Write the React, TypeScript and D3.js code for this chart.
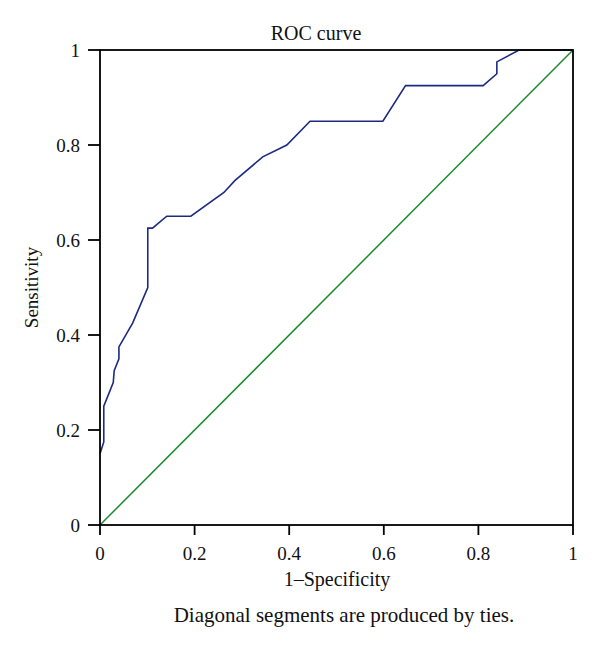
import React from "react";
import * as d3 from "d3";

const fpr = [0, 0.008, 0.008, 0.028, 0.03, 0.04, 0.04, 0.069, 0.101, 0.101, 0.111, 0.141, 0.192, 0.262, 0.285, 0.344, 0.395, 0.444, 0.598, 0.646, 0.81, 0.839, 0.839, 0.886, 1];
const tpr = [0.15, 0.175, 0.25, 0.3, 0.325, 0.35, 0.375, 0.425, 0.5, 0.625, 0.625, 0.65, 0.65, 0.7, 0.725, 0.775, 0.8, 0.85, 0.85, 0.925, 0.925, 0.95, 0.975, 1, 1];
const refX = [0, 1];
const refY = [0, 1];
const ticks = [0, 0.2, 0.4, 0.6, 0.8, 1];
const tickLabels = ["0", "0.2", "0.4", "0.6", "0.8", "1"];

const W = 600, H = 650;
const left = 100, right = 573, top = 50, bottom = 525;
const font = "'Liberation Serif', 'DejaVu Serif', serif";

export default function App() {
  const x = d3.scaleLinear().domain([0, 1]).range([left, right]);
  const y = d3.scaleLinear().domain([0, 1]).range([bottom, top]);
  const line = d3.line<[number, number]>().x(d => x(d[0])).y(d => y(d[1]));
  const roc = line(fpr.map((f, i) => [f, tpr[i]] as [number, number])) || "";
  const diag = line(refX.map((f, i) => [f, refY[i]] as [number, number])) || "";
  return (
    <svg width={W} height={H} style={{ position: "absolute", left: 0, top: 0, background: "#fff" }} fontFamily={font} fill="#111">
      <rect x={0} y={0} width={W} height={H} fill="#fff" />
      <path d={diag} fill="none" stroke="#1a8a2a" strokeWidth={1.5} />
      <path d={roc} fill="none" stroke="#1c2a80" strokeWidth={1.6} />
      <rect x={left} y={top} width={right - left} height={bottom - top} fill="none" stroke="#000" strokeWidth={1.8} />
      {ticks.map((t, i) => (
        <g key={"y" + i}>
          <line x1={left - 12} x2={left} y1={y(t)} y2={y(t)} stroke="#000" strokeWidth={1.8} />
          <text x={left - 20} y={y(t) + 6.5} textAnchor="end" fontSize={19}>{tickLabels[i]}</text>
        </g>
      ))}
      {ticks.map((t, i) => (
        <g key={"x" + i}>
          <line x1={x(t)} x2={x(t)} y1={bottom} y2={bottom + 10} stroke="#000" strokeWidth={1.8} />
          <text x={x(t)} y={560} textAnchor="middle" fontSize={19}>{tickLabels[i]}</text>
        </g>
      ))}
      <text x={316} y={40} textAnchor="middle" fontSize={20}>ROC curve</text>
      <text x={337} y={586} textAnchor="middle" fontSize={20}>1–Specificity</text>
      <text x={344} y={622} textAnchor="middle" fontSize={21}>Diagonal segments are produced by ties.</text>
      <text transform={`translate(38, ${(top + bottom) / 2}) rotate(-90)`} textAnchor="middle" fontSize={19}>Sensitivity</text>
    </svg>
  );
}
